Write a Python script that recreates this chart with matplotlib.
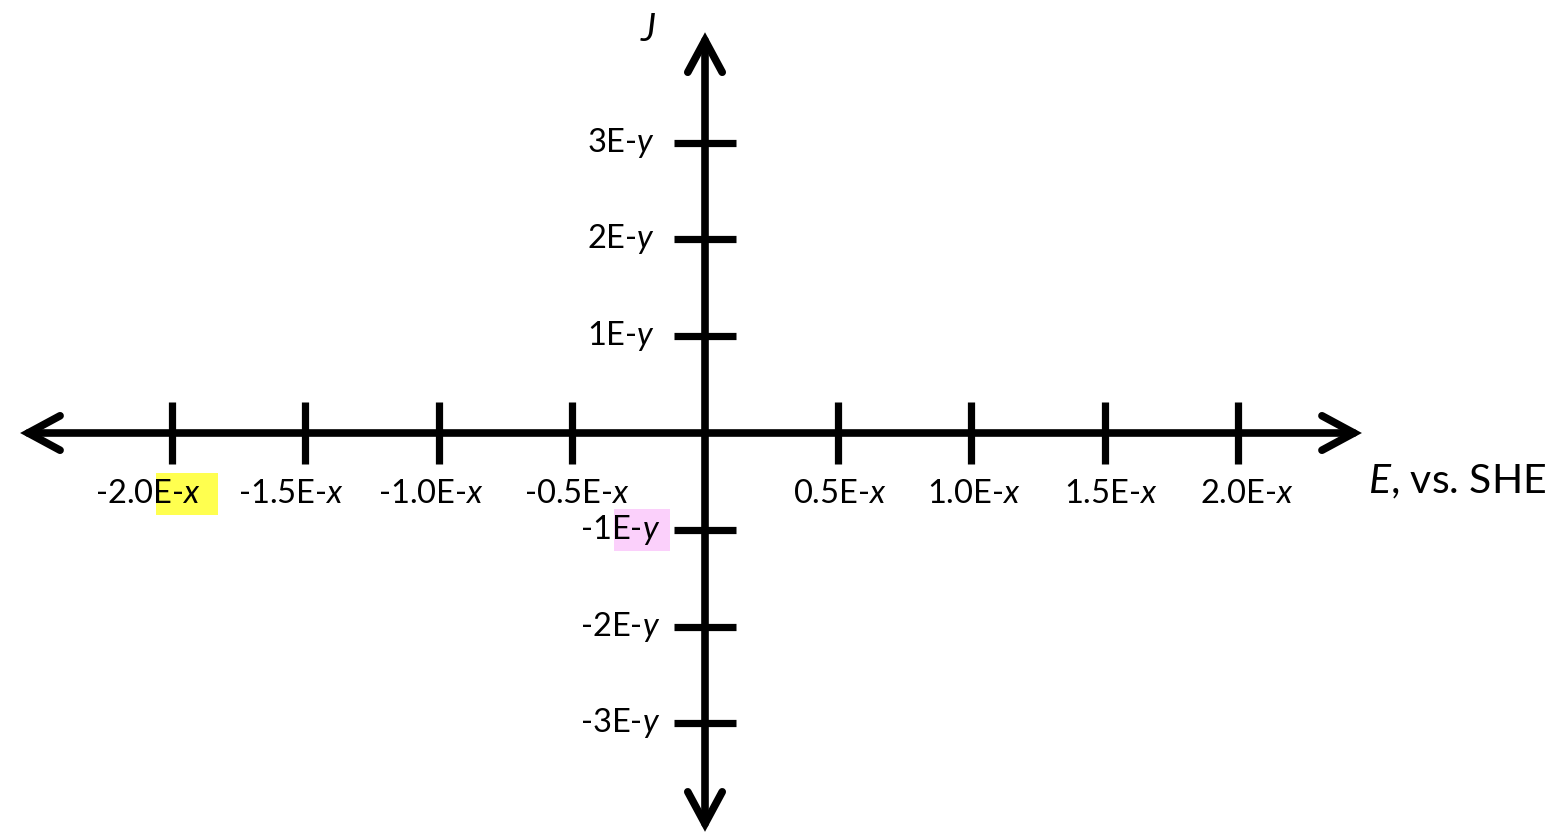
import matplotlib
matplotlib.use('Agg')
import matplotlib.pyplot as plt
import matplotlib.patches as mpatches
from matplotlib.transforms import IdentityTransform

# ── Data ──────────────────────────────────────────────────────
x_ticks  = [-2.0, -1.5, -1.0, -0.5, 0.5, 1.0, 1.5, 2.0]
x_labels = ['-2.0', '-1.5', '-1.0', '-0.5', '0.5', '1.0', '1.5', '2.0']
y_ticks  = [3, 2, 1, -1, -2, -3]
y_labels = ['3', '2', '1', '-1', '-2', '-3']
x_suffix = 'E-$x$'
y_suffix = 'E-$y$'
x_title  = '$E$, vs. SHE'
y_title  = '$J$'

# highlighted labels: (axis, tick value, colour)
highlights = [('x', -2.0, '#ffff4f'), ('y', -1, '#fbd0fb')]

# ── Layout (pixels / data units) ──────────────────────────────
W, H = 1557, 836
x_range = (-2.571, 2.466)          # arrow tips of E axis
y_range = (-4.12, 4.14)            # arrow tips of J axis
x_lab_shift = [-24, -14, -8, 5, 2, 2, 6, 9]   # px, label centre vs tick
y_lab_right = [-50, -50, -50, -45, -45, -45]  # px, label right edge vs axis

plt.rcParams.update({
    'font.family'      : ['Lato', 'DejaVu Sans'],
    'mathtext.fontset' : 'custom',
    'mathtext.rm'      : 'Lato',
    'mathtext.it'      : 'Lato:italic',
})

fig = plt.figure(figsize=(W / 100, H / 100), dpi=100)
ax = fig.add_axes([0, 0, 1, 1])
ax.set_xlim(-705 / 266.4, (W - 705) / 266.4)
ax.set_ylim(-(H - 433) / 96.8, 433 / 96.8)
ax.axis('off')

lw = 5.2
arrow = dict(arrowstyle='<->,head_length=1.15,head_width=0.62',
             lw=lw + 0.3, color='black', mutation_scale=20,
             shrinkA=0, shrinkB=0, capstyle='round', joinstyle='miter')
ax.annotate('', xy=(x_range[1], 0), xytext=(x_range[0], 0), arrowprops=arrow)
ax.annotate('', xy=(0, y_range[1]), xytext=(0, y_range[0]), arrowprops=arrow)

# tick marks
ax.plot(x_ticks, [0] * len(x_ticks), ls='none', marker='|',
        ms=45, mew=lw, color='black', zorder=3)
ax.plot([0] * len(y_ticks), y_ticks, ls='none', marker='_',
        ms=45, mew=lw, color='black', zorder=3)

fs = 23.5
renderer = fig.canvas.get_renderer()
to_disp = ax.transData


def highlight(txt, suffix, colour, pad_right):
    """Shade the trailing suffix part of txt."""
    bb = txt.get_window_extent(renderer)
    probe = ax.text(0, 0, suffix, fontsize=fs)
    w_suf = probe.get_window_extent(renderer).width - 3
    probe.remove()
    cy = (bb.y0 + bb.y1) / 2
    rect = mpatches.Rectangle((bb.x1 - w_suf, cy - 21), w_suf + pad_right, 42,
                              transform=IdentityTransform(), facecolor=colour,
                              edgecolor='none', zorder=1)
    ax.add_artist(rect)


hl = {(a, v): c for a, v, c in highlights}

# x tick labels
for v, lab, dx in zip(x_ticks, x_labels, x_lab_shift):
    px, py = to_disp.transform((v, 0))
    t = ax.text(px + dx, py - 61, lab + x_suffix, fontsize=fs,
                ha='center', va='center', transform=IdentityTransform(), zorder=4)
    if ('x', v) in hl:
        highlight(t, x_suffix, hl[('x', v)], 17)

# y tick labels
for v, lab, dx in zip(y_ticks, y_labels, y_lab_right):
    px, py = to_disp.transform((0, v))
    t = ax.text(px + dx, py, lab + y_suffix, fontsize=fs,
                ha='right', va='center', transform=IdentityTransform(), zorder=4)
    if ('y', v) in hl:
        highlight(t, y_suffix, hl[('y', v)], 10)

# axis titles
ax.text(1368, H - 482, x_title, fontsize=29.5, ha='left', va='center',
        transform=IdentityTransform())
ax.text(648, H - 30, y_title, fontsize=27, ha='center', va='center',
        transform=IdentityTransform())

fig.savefig('out.png', dpi=100, facecolor='white')
